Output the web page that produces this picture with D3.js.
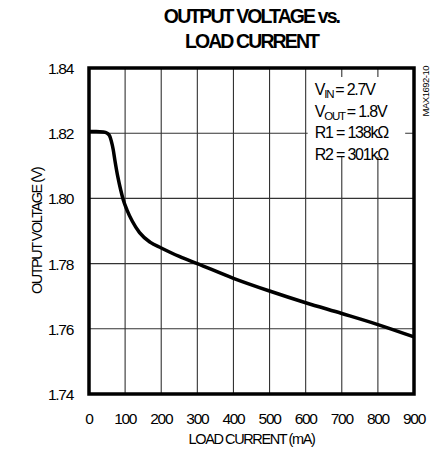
<!DOCTYPE html>
<html>
<head>
<meta charset="utf-8">
<script src="https://cdn.jsdelivr.net/npm/d3@7"></script>
<style>
  body { margin: 0; background: #fff; }
  svg text { font-family: "Liberation Sans", Arial, sans-serif; fill: #000; }
</style>
</head>
<body>
<div id="plot"></div>
<script>
// load current (mA) vs output voltage (V)
var loadCurrent = [0, 20, 40, 50, 57, 62, 67, 72, 80, 88, 95, 105, 120, 140, 170, 200, 250, 300, 400, 500, 600, 700, 800, 900];
var outVoltage  = [1.8205, 1.8205, 1.8204, 1.8200, 1.8192, 1.8175, 1.8150, 1.8115, 1.8065, 1.8025, 1.7995, 1.7965, 1.7930, 1.7895, 1.7865, 1.7848, 1.7822, 1.7800, 1.7755, 1.7716, 1.7680, 1.7647, 1.7613, 1.7575];
var xTicks = [0, 100, 200, 300, 400, 500, 600, 700, 800, 900];
var yTicks = [1.74, 1.76, 1.78, 1.80, 1.82, 1.84];
var notes = [
  { main: "V", sub: "IN", rest: "= 2.7V" },
  { main: "V", sub: "OUT", rest: "= 1.8V" },
  { main: "R1 = 138k\u03A9", sub: "", rest: "" },
  { main: "R2 = 301k\u03A9", sub: "", rest: "" }
];

var width = 441, height = 453;
var margin = { top: 68, right: 27, bottom: 59, left: 89 };
var w = width - margin.left - margin.right;
var h = height - margin.top - margin.bottom;

var svg = d3.select("div#plot").append("svg")
  .attr("width", width)
  .attr("height", height);

var g = svg.append("g")
  .attr("transform", "translate(" + margin.left + "," + margin.top + ")");

var x = d3.scaleLinear().domain([0, 900]).range([0, w]);
var y = d3.scaleLinear().domain([1.74, 1.84]).range([h, 0]);

// grid
g.selectAll(".vgrid").data(xTicks.slice(1, -1)).enter().append("line")
  .attr("x1", function(d) { return x(d); }).attr("x2", function(d) { return x(d); })
  .attr("y1", 0).attr("y2", h)
  .attr("stroke", "#333").attr("stroke-width", 1.1);

g.selectAll(".hgrid").data(yTicks.slice(1, -1)).enter().append("line")
  .attr("x1", 0).attr("x2", w)
  .attr("y1", function(d) { return y(d); }).attr("y2", function(d) { return y(d); })
  .attr("stroke", "#333").attr("stroke-width", 1.1);

// white box behind the notes
g.append("rect")
  .attr("x", x(600) + 2).attr("y", 9)
  .attr("width", x(870) - x(600)).attr("height", 80)
  .attr("fill", "#fff");

// the curve
var line = d3.line()
  .x(function(d, i) { return x(loadCurrent[i]); })
  .y(function(d) { return y(d); })
  .curve(d3.curveMonotoneX);

g.append("path")
  .datum(outVoltage)
  .attr("d", line)
  .attr("fill", "none")
  .attr("stroke", "#000")
  .attr("stroke-width", 3.5);

// frame
g.append("rect")
  .attr("x", 0).attr("y", 0).attr("width", w).attr("height", h)
  .attr("fill", "none").attr("stroke", "#000").attr("stroke-width", 3.5);

// tick labels
g.selectAll(".xlab").data(xTicks).enter().append("text")
  .attr("x", function(d) { return x(d); })
  .attr("y", h + 30)
  .attr("text-anchor", "middle")
  .attr("font-size", 15.5)
  .attr("letter-spacing", "-1.3")
  .text(function(d) { return d; });

g.selectAll(".ylab").data(yTicks).enter().append("text")
  .attr("x", -16)
  .attr("y", function(d) { return y(d) + 6; })
  .attr("text-anchor", "end")
  .attr("font-size", 15.5)
  .attr("letter-spacing", "-1.3")
  .text(function(d) { return d.toFixed(2); });

// axis titles
svg.append("text")
  .attr("x", margin.left + w / 2).attr("y", 444)
  .attr("text-anchor", "middle")
  .attr("font-size", 14.5)
  .attr("letter-spacing", "-1.4")
  .text("LOAD CURRENT (mA)");

svg.append("text")
  .attr("transform", "translate(42," + (margin.top + h / 2) + ") rotate(-90)")
  .attr("text-anchor", "middle")
  .attr("font-size", 14.5)
  .attr("letter-spacing", "-1.5")
  .text("OUTPUT VOLTAGE (V)");

// title
var title = svg.append("text")
  .attr("text-anchor", "middle")
  .attr("font-size", 19.5)
  .attr("font-weight", "bold")
  .attr("letter-spacing", "-1.9");
title.append("tspan").attr("x", margin.left + w / 2).attr("y", 23).text("OUTPUT VOLTAGE vs.");
title.append("tspan").attr("x", margin.left + w / 2).attr("y", 48).text("LOAD CURRENT");

// notes
notes.forEach(function(n, i) {
  var t = g.append("text")
    .attr("x", x(625))
    .attr("y", 27 + i * 21.5)
    .attr("font-size", 16)
    .attr("letter-spacing", "-1.2");
  t.append("tspan").text(n.main);
  if (n.sub) {
    t.append("tspan").attr("font-size", 11.5).attr("dy", 3).text(n.sub);
    t.append("tspan").attr("dy", -3).attr("dx", 2).text(n.rest);
  }
});

// part number
svg.append("text")
  .attr("transform", "translate(429,66) rotate(-90)")
  .attr("text-anchor", "end")
  .attr("font-size", 9.5)
  .attr("letter-spacing", "-0.5")
  .text("MAX1692-10");
</script>
</body>
</html>
